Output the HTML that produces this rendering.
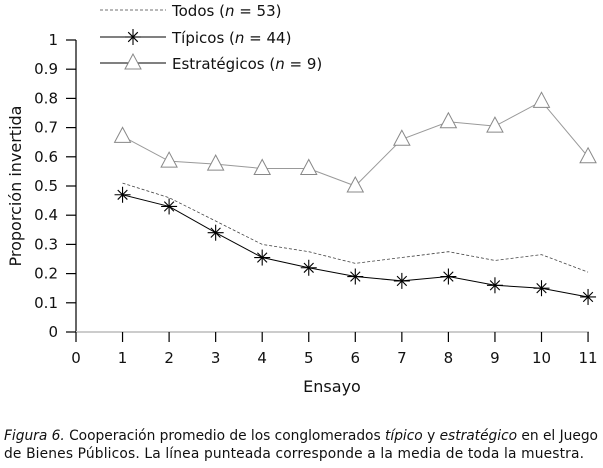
<!DOCTYPE html>
<html><head><meta charset="utf-8"><style>
body{margin:0;background:#fff;width:603px;height:464px;overflow:hidden;font-family:"DejaVu Sans","Liberation Sans",sans-serif}
svg text{font-family:"DejaVu Sans","Liberation Sans",sans-serif;fill:#111}
</style></head><body>
<svg width="603" height="464" viewBox="0 0 603 464" xmlns="http://www.w3.org/2000/svg">
<g id="axes" stroke="#000" stroke-width="1.2">
<line x1="76" y1="40" x2="76" y2="332"/>
<line x1="76" y1="332" x2="589" y2="332" stroke="#ccc" stroke-width="2"/>
</g>
<g id="yt" font-size="15" text-anchor="end"></g>
<g id="xt" font-size="15" text-anchor="middle"></g>
<text x="332" y="392" font-size="16" text-anchor="middle">Ensayo</text>
<text transform="translate(21,186) rotate(-90)" font-size="16" text-anchor="middle">Proporción invertida</text>
<g id="series" fill="none"></g>
<g font-size="15">
<line x1="100" y1="10" x2="166" y2="10" stroke="#444" stroke-dasharray="3,2" stroke-width="0.8"/>
<text x="172" y="16">Todos (<tspan font-style="italic">n</tspan> = 53)</text>
<line x1="100" y1="37" x2="166" y2="37" stroke="#000"/>
<text x="172" y="43">Típicos (<tspan font-style="italic">n</tspan> = 44)</text>
<line x1="100" y1="63" x2="166" y2="63" stroke="#000"/>
<text x="172" y="69">Estratégicos (<tspan font-style="italic">n</tspan> = 9)</text>
</g>
<g id="leg"></g>
<text x="4" y="440" font-size="13.8" textLength="594"><tspan font-style="italic">Figura 6.</tspan>    Cooperación promedio de los conglomerados <tspan font-style="italic">típico</tspan> y <tspan font-style="italic">estratégico</tspan> en el Juego</text>
<text x="4" y="458" font-size="13.8" textLength="580">de Bienes Públicos. La línea punteada corresponde a la media de toda la muestra.</text>
</svg>
<script>
const NS="http://www.w3.org/2000/svg";
function el(p,t,a,txt){const e=document.createElementNS(NS,t);for(const k in a)e.setAttribute(k,a[k]);if(txt!==undefined)e.textContent=txt;document.getElementById(p).appendChild(e);return e;}
const X=i=>76+i*46.55, Y=v=>332-v*292;
for(let i=0;i<=10;i++){const v=i/10,y=Y(v);el('yt','line',{x1:66,y1:y,x2:76,y2:y,stroke:'#000','stroke-width':1.2});el('yt','text',{x:58,y:y+5},i==0?'0':i==10?'1':v.toFixed(1));}
for(let i=0;i<=11;i++){const x=X(i);el('xt','line',{x1:x,y1:332,x2:x,y2:342,stroke:'#000','stroke-width':1.2});el('xt','text',{x:x,y:363},String(i));}
const todos=[.51,.46,.38,.30,.275,.235,.255,.275,.245,.265,.205];
const tip=[.47,.43,.34,.255,.22,.19,.175,.19,.16,.15,.12];
const est=[.67,.585,.575,.56,.56,.50,.66,.72,.705,.79,.60];
const pts=a=>a.map((v,i)=>X(i+1)+','+Y(v)).join(' ');
el('series','polyline',{points:pts(todos),stroke:'#444','stroke-dasharray':'3,2','stroke-width':0.8});
el('series','polyline',{points:pts(tip),stroke:'#000','stroke-width':1});
el('series','polyline',{points:pts(est),stroke:'#999','stroke-width':1});
function star(p,x,y){const r=8;for(let k=0;k<4;k++){const a=k*Math.PI/4+Math.PI/2;el(p,'line',{x1:x-r*Math.cos(a)*(k%2?0.85:1),y1:y-r*Math.sin(a)*(k%2?0.85:1),x2:x+r*Math.cos(a)*(k%2?0.85:1),y2:y+r*Math.sin(a)*(k%2?0.85:1),stroke:'#000','stroke-width':1.1});}}
function tri(p,x,y){el(p,'polygon',{points:`${x},${y-9} ${x-8},${y+6} ${x+8},${y+6}`,fill:'#fff',stroke:'#888','stroke-width':1});}
tip.forEach((v,i)=>star('series',X(i+1),Y(v)));
est.forEach((v,i)=>tri('series',X(i+1),Y(v)));
star('leg',133,37);tri('leg',133,63);
</script>
</body></html>
